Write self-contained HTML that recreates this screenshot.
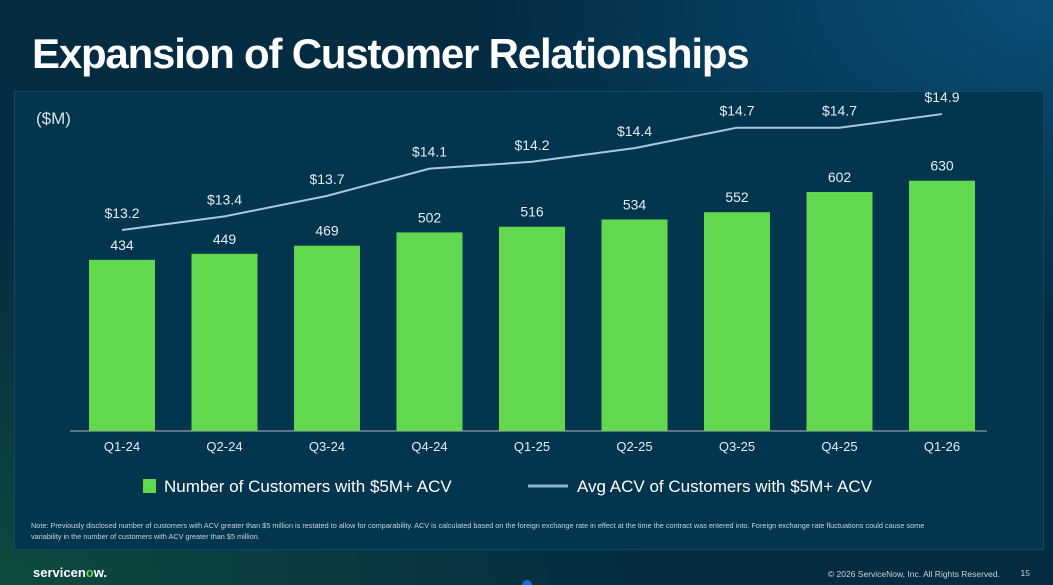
<!DOCTYPE html>
<html><head><meta charset="utf-8"><style>
body{margin:0;width:1053px;height:585px;overflow:hidden;font-family:"Liberation Sans",sans-serif;
background:radial-gradient(ellipse at 0% 100%,#0e4a3e 0%,rgba(3,42,64,0) 45%),radial-gradient(ellipse at 100% 0%,#0a4f78 0%,rgba(3,42,64,0) 40%),#032b42;position:relative}
#title{position:absolute;left:32px;top:30px;font-size:42px;font-weight:bold;color:#fff;letter-spacing:-1.2px}
#panel{position:absolute;left:14px;top:91px;width:1030px;height:459px;background:#03354f;border:1px solid #0b4a6a;box-sizing:border-box}
svg{position:absolute;left:0;top:0}
.note{position:absolute;left:31px;top:520px;font-size:7.3px;color:#c8d4dc;width:900px;line-height:11px}
</style></head><body>
<div id="title">Expansion of Customer Relationships</div>
<div id="panel"></div>
<svg id="chart" width="1053" height="585">
<text x="36" y="124" font-size="17" fill="#d8e2ea">($M)</text>
<line x1="70" y1="431" x2="987" y2="431" stroke="#7a8a96" stroke-width="1.5"/>
<g id="bars"></g><g id="line"></g><g id="xt"></g>
<g>
<rect x="143" y="479" width="13" height="14" fill="#62d84e"/>
<text x="164" y="492" font-size="17" fill="#fff">Number of Customers with $5M+ ACV</text>
<line x1="528" y1="486" x2="568" y2="486" stroke="#8fb3cc" stroke-width="3"/>
<text x="577" y="492" font-size="17" fill="#fff">Avg ACV of Customers with $5M+ ACV</text>
</g>
<text x="33" y="577" font-size="13" font-weight="bold" fill="#fff">servicen<tspan fill="#62d84e">o</tspan>w.</text>
<text x="1000" y="577" font-size="8.5" fill="#c8d4dc" text-anchor="end">© 2026 ServiceNow, Inc. All Rights Reserved.</text>
<text x="1030" y="576" font-size="8.5" fill="#c8d4dc" text-anchor="end">15</text>
<circle cx="527" cy="585" r="5" fill="#1a6be0"/>
</svg>
<div class="note">Note: Previously disclosed number of customers with ACV greater than $5 million is restated to allow for comparability. ACV is calculated based on the foreign exchange rate in effect at the time the contract was entered into. Foreign exchange rate fluctuations could cause some variability in the number of customers with ACV greater than $5 million.</div>
<script>
const categories=["Q1-24","Q2-24","Q3-24","Q4-24","Q1-25","Q2-25","Q3-25","Q4-25","Q1-26"];
const customers=[434,449,469,502,516,534,552,602,630];
const avgAcv=[13.2,13.4,13.7,14.1,14.2,14.4,14.7,14.7,14.9];
const NS="http://www.w3.org/2000/svg";
const xs=i=>122+i*102.5;
const yb=v=>435-v*0.4036;
const yl=v=>230-(v-13.2)*68.2;
function mk(t,a,p){const e=document.createElementNS(NS,t);for(const k in a)e.setAttribute(k,a[k]);p.appendChild(e);return e;}
const B=document.getElementById('bars'),L=document.getElementById('line'),X=document.getElementById('xt');
categories.forEach((c,i)=>{
 const r=mk('rect',{x:xs(i)-33,y:yb(customers[i]),width:66,height:431-yb(customers[i]),fill:'#62d84e'},B);
 
 
 const t=mk('text',{x:xs(i),y:yb(customers[i])-10,'font-size':14,fill:'#e6edf2','text-anchor':'middle'},B);
 t.textContent=customers[i];
 
 
 const x=mk('text',{x:xs(i),y:451,'font-size':13,fill:'#e6edf2','text-anchor':'middle'},X);
 x.textContent=c;
 
 
 const l=mk('text',{x:xs(i),y:yl(avgAcv[i])-12,'font-size':14,fill:'#e6edf2','text-anchor':'middle'},L);
 l.textContent='$'+avgAcv[i].toFixed(1);
 
 
});
const p=mk('polyline',{points:avgAcv.map((v,i)=>xs(i)+','+yl(v)).join(' '),fill:'none',stroke:'#a9c8dc','stroke-width':2},L);


</script>
</body></html>
